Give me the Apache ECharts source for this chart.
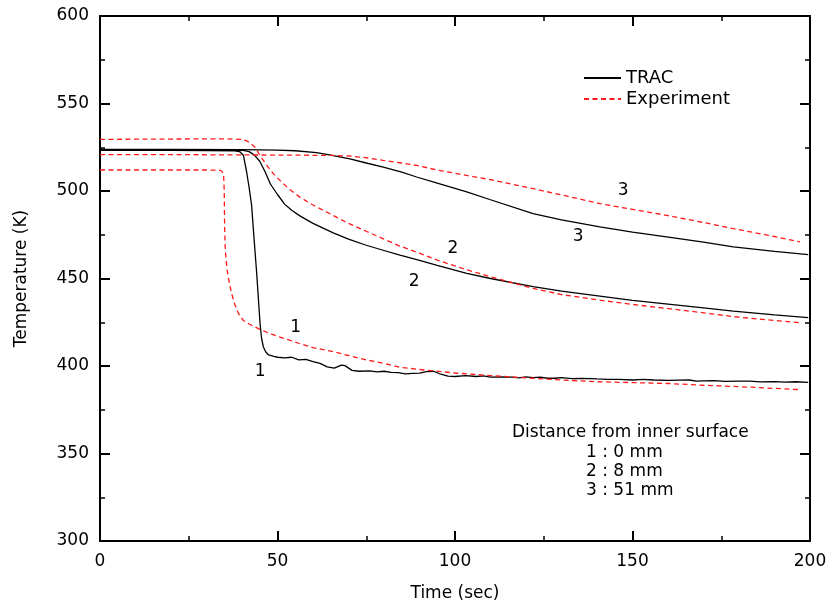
<!DOCTYPE html>
<html>
<head>
<meta charset="utf-8">
<script src="https://cdn.jsdelivr.net/npm/echarts@6/dist/echarts.min.js"></script>
<style>html,body{margin:0;padding:0;background:#fff}#c{width:832px;height:607px}</style>
</head>
<body>
<div id="c"></div>
<script>
// ---- data (time in s, temperature in K) ----
const trac1 = [[0,523.2],[10,523.2],[20,523.2],[30,523.1],[38,522.9],[39.5,522.3],[40.4,520.3],[41.3,511],[42,502],[42.7,492],[43.5,470],[44.1,454],[44.7,436],[45.1,424],[45.5,416],[46,411],[46.7,408],[47.5,406.3],[49,405.5],[50,405],[52,404.6],[54,405],[56,403.5],[58,403.8],[60,402.5],[62,401.5],[64,399.5],[66,398.8],[68,400.5],[69,400.2],[71,397.5],[73,397],[76,397.2],[78,396.6],[80,397],[82,396.4],[84,396.2],[86,395.5],[88,395.8],[90,395.9],[92,396.8],[94,397],[96,395.3],[98,394.2],[100,394],[103,394.5],[106,394],[108,394.3],[110,393.6],[113,393.8],[116,393.6],[118,393.2],[120,393.8],[122,393.4],[124,393.6],[126,393],[128,393],[130,393.4],[133,392.8],[136,392.9],[140,392.6],[143,392.4],[146,392.4],[150,392],[153,392.3],[156,392],[160,391.8],[163,391.9],[166,392],[168,391.3],[170,391.5],[173,391.6],[176,391.2],[180,391.3],[183,391.4],[186,390.9],[190,391.1],[193,390.8],[196,391],[199.5,390.7]];
const exp1 = [[0,512],[10,512],[20,512],[30,512],[34,511.8],[34.8,510],[35,500],[35.1,480],[35.3,466],[35.8,455],[36.3,449],[37,442],[38,435],[39,430],[40.4,426],[42,424],[45.5,420.5],[50,417],[56,413],[60,410.5],[65.7,408.2],[70,406],[75,403.5],[80,401.5],[84.5,399.3],[90,398],[100,396],[110,394.5],[122,393],[130,392],[140,391],[150,390.5],[160,390],[170,389],[180,388.2],[190,387.2],[197.2,386.5]];
const trac2 = [[0,523.4],[20,523.4],[40,523.3],[42,522.5],[43.5,520.5],[45,517],[46.5,511],[48,504],[50,498],[52,492.5],[54,489],[56.3,485.8],[60,481.5],[65.7,476.1],[70,472.5],[75,469],[80,466],[84.5,463.3],[90,460.3],[95,457.5],[103.3,452.9],[110,450],[122,445.3],[130,442.8],[140.8,439.9],[150,437.5],[160,435.3],[170,433.2],[178.4,431.4],[190,429.2],[199.5,427.6]];
const exp2 = [[0,529.5],[20,529.7],[35,529.8],[40,529.5],[41.5,528.5],[42.5,527],[43.7,525],[45,520.5],[47,514.6],[49,509.5],[51.6,504.2],[54,500],[56.3,496.5],[60,492],[65.7,486],[70,481.5],[75,477],[80,472.5],[84.5,468.5],[90,464.5],[95,460.5],[103.3,455],[110,451],[122,444.3],[130,440.8],[140.8,437.6],[150,435.2],[159.6,432.9],[170,430.4],[178.4,428.2],[190,426],[197.2,424.7]];
const trac3 = [[0,523.8],[20,523.8],[40,523.6],[50,523.4],[55,523],[61,521.9],[65,520.5],[70.4,518.4],[75,516],[79.8,513.7],[85,510.8],[89.2,508],[95,504.5],[103.3,499.5],[110,495],[122,487.1],[130,483.5],[140.8,479.5],[150,476.5],[159.6,473.8],[170,470.8],[178.4,468.1],[190,465.5],[199.5,463.7]];
const exp3 = [[0,520.8],[20,520.8],[40,520.6],[55,520.5],[65.7,520.3],[70.4,520],[75,519],[79.8,517.5],[85,516],[89.2,514.6],[95,512],[103.3,508.9],[110,506.5],[122,501.3],[130,497.8],[140.8,492.8],[150,489.5],[159.6,486.1],[170,482],[178.4,478.5],[190,474],[197.2,470.9]];
const curveLabelTimes = [55.1, 45.1, 99.4, 88.5, 147.4, 134.7];
const curveLabelTemps = [421.8, 396.8, 467.1, 448.1, 500.4, 473.8];
const curveLabelTexts = ['1','1','2','2','3','3'];
const xTicks = {min:0, max:200, interval:50};
const yTicks = {min:300, max:600, interval:50};
const noteLines = ['Distance from inner surface','1 : 0 mm','2 : 8 mm','3 : 51 mm'];

const FONT = 'DejaVu Sans';
const chart = echarts.init(document.getElementById('c'), null, {renderer:'canvas'});

function axisCommon(showLabel){
  return {
    type:'value',
    axisLine:{show:true, onZero:false, lineStyle:{color:'#000', width:2}},
    axisTick:{show:true, inside:true, length:10, lineStyle:{color:'#000', width:2}},
    minorTick:{show:true, splitNumber:2, length:5, lineStyle:{color:'#000', width:1.5}},
    splitLine:{show:false},
    axisLabel:{show:showLabel, color:'#000', fontSize:17, fontFamily:FONT}
  };
}

const labelData = curveLabelTimes.map((t,i)=>[t, curveLabelTemps[i], curveLabelTexts[i]]);
const tracStyle = {color:'#000', width:1.3, type:'solid'};
const expStyle = {color:'#ff1a1a', width:1.3, type:[5,3.5]};
function lineSeries(name, data, style){
  return {name, type:'line', data, symbol:'none', showSymbol:false, smooth:false,
          lineStyle:style, itemStyle:{color:style.color}, animation:false, z:3};
}

const option = {
  animation:false,
  backgroundColor:'#fff',
  grid:{left:100, right:22, top:16, bottom:64, containLabel:false},
  legend:{
    data:['TRAC','Experiment'], orient:'vertical', left:578, top:64,
    itemWidth:37, itemHeight:12, itemGap:3,
    itemStyle:{opacity:0},
    textStyle:{color:'#000', fontSize:18, fontFamily:FONT, lineHeight:18}
  },
  xAxis:[
    Object.assign(axisCommon(true), xTicks, {position:'bottom',
      axisLabel:{color:'#000', fontSize:17, fontFamily:FONT, margin:12},
      name:'Time (sec)', nameLocation:'middle', nameGap:44,
      nameTextStyle:{color:'#000', fontSize:17, fontFamily:FONT}}),
    Object.assign(axisCommon(false), xTicks, {position:'top'})
  ],
  yAxis:[
    Object.assign(axisCommon(true), yTicks, {position:'left',
      axisLabel:{color:'#000', fontSize:17, fontFamily:FONT, margin:11},
      name:'Temperature (K)', nameLocation:'middle', nameGap:70,
      nameTextStyle:{color:'#000', fontSize:17, fontFamily:FONT}}),
    Object.assign(axisCommon(false), yTicks, {position:'right'})
  ],
  series:[
    lineSeries('TRAC', trac1, tracStyle),
    lineSeries('TRAC', trac2, tracStyle),
    lineSeries('TRAC', trac3, tracStyle),
    lineSeries('Experiment', exp1, expStyle),
    lineSeries('Experiment', exp2, expStyle),
    lineSeries('Experiment', exp3, expStyle),
    {name:'curve labels', type:'scatter', data:labelData, symbolSize:0, silent:true,
     itemStyle:{opacity:1, color:'#000'},
     label:{show:true, position:'inside', formatter:p=>p.value[2], color:'#000', opacity:1, fontSize:17, fontFamily:FONT}}
  ],
  graphic:[
    {type:'text', left:512, top:424, style:{text:noteLines[0], fill:'#000', font:'17px "DejaVu Sans"'}},
    {type:'text', left:586, top:444, style:{text:noteLines[1], fill:'#000', font:'17px "DejaVu Sans"'}},
    {type:'text', left:586, top:463, style:{text:noteLines[2], fill:'#000', font:'17px "DejaVu Sans"'}},
    {type:'text', left:586, top:482, style:{text:noteLines[3], fill:'#000', font:'17px "DejaVu Sans"'}}
  ]
};
chart.setOption(option);
</script>
</body>
</html>
